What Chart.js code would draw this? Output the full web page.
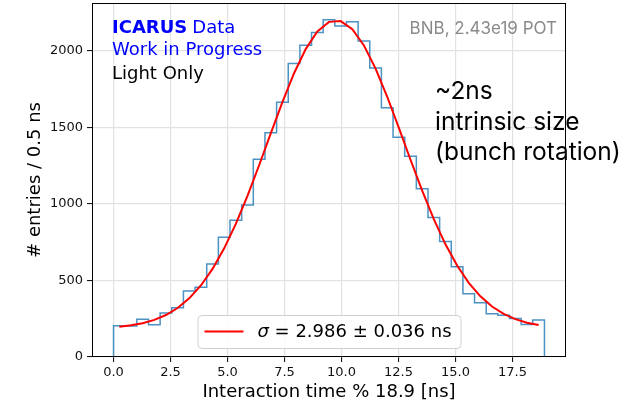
<!DOCTYPE html>
<html>
<head>
<meta charset="utf-8">
<script src="https://cdn.jsdelivr.net/npm/chart.js@4/dist/chart.umd.min.js"></script>
<style>
  html, body { margin: 0; padding: 0; background: #fff; }
  canvas { display: block; }
</style>
</head>
<body>
<canvas id="c" width="644" height="405"></canvas>
<script>
// Interaction time modulo the 18.9 ns bunch spacing, light-only reconstruction
const histRange = [0, 18.9];
const binCounts = [
  205, 203, 247, 210, 288, 321, 432, 456, 607, 782,
  894, 993, 1292, 1466, 1665, 1918, 2037, 2120, 2203, 2163,
  2190, 2065, 1888, 1628, 1436, 1312, 1100, 912, 755, 589,
  413, 354, 282, 273, 251, 212, 242
];

// Gaussian + flat background fit
const fitAmplitude = 2015;
const fitMean = 9.75;
const fitSigma = 2.986;
const fitSigmaErr = 0.036;
const fitOffset = 185;

const xTickValues = [0, 2.5, 5, 7.5, 10, 12.5, 15, 17.5];
const yTickValues = [0, 500, 1000, 1500, 2000];

const xLabel = 'Interaction time % 18.9 [ns]';
const yLabel = '# entries / 0.5 ns';
const expName = 'ICARUS';
const expSuffix = 'Data';
const statusText = 'Work in Progress';
const recoText = 'Light Only';
const exposureText = 'BNB, 2.43e19 POT';
const noteLines = ['~2ns', 'intrinsic size', '(bunch rotation)'];

// bin edges / centres
const nBins = binCounts.length;
const binW = (histRange[1] - histRange[0]) / nBins;
const edges = [];
for (let i = 0; i <= nBins; i++) edges.push(histRange[0] + i * binW);
const centers = binCounts.map((_, i) => edges[i] + binW / 2);

// step outline of the histogram
const stepPts = [{x: edges[0], y: 0}];
binCounts.forEach((c, i) => stepPts.push({x: edges[i], y: c}));
stepPts.push({x: edges[nBins], y: binCounts[nBins - 1]});
stepPts.push({x: edges[nBins], y: 0});

// fit curve evaluated at bin centres
const fitModel = x => fitAmplitude * Math.exp(-((x - fitMean) ** 2) / (2 * fitSigma ** 2)) + fitOffset;
const fitPts = centers.map(x => ({x, y: fitModel(x)}));

const yMax = Math.max(...binCounts) * 1.05;
const xPad = (histRange[1] - histRange[0]) * 0.05;

const MPL = 'DejaVu Sans';

const overlay = {
  id: 'overlay',
  afterDatasetsDraw(chart) {
    const ctx = chart.ctx;
    const a = chart.chartArea;
    // legend box, lower centre
    const legendText = ' = ' + fitSigma.toFixed(3) + ' \u00b1 ' + fitSigmaErr.toFixed(3) + ' ns';
    ctx.save();
    ctx.font = 'italic 18px ' + MPL;
    const wSig = ctx.measureText('\u03c3').width;
    ctx.font = '18px ' + MPL;
    const wRest = ctx.measureText(legendText).width;
    const boxW = 7 + 39 + 14 + wSig + wRest + 9;
    const boxH = 33;
    const cx = (a.left + a.right) / 2;
    const bx = cx - boxW / 2;
    const by = a.bottom - 9 - boxH;
    ctx.beginPath();
    ctx.roundRect(bx + 0.5, by + 0.5, boxW, boxH, 4);
    ctx.fillStyle = 'rgba(255,255,255,0.85)';
    ctx.fill();
    ctx.strokeStyle = '#d0d0d0';
    ctx.lineWidth = 1;
    ctx.stroke();
    const ly = by + boxH / 2;
    ctx.beginPath();
    ctx.moveTo(bx + 7, ly);
    ctx.lineTo(bx + 46, ly);
    ctx.strokeStyle = 'red';
    ctx.lineWidth = 2;
    ctx.stroke();
    ctx.fillStyle = '#000';
    ctx.textBaseline = 'middle';
    ctx.textAlign = 'left';
    const tx = bx + 60;
    ctx.font = 'italic 18px ' + MPL;
    ctx.fillText('\u03c3', tx, ly + 1);
    ctx.font = '18px ' + MPL;
    ctx.fillText(legendText, tx + wSig, ly + 1);
    ctx.restore();
  },
  afterDraw(chart) {
    const ctx = chart.ctx;
    const a = chart.chartArea;
    ctx.save();
    // frame
    ctx.strokeStyle = '#000';
    ctx.lineWidth = 1;
    ctx.strokeRect(Math.round(a.left) + 0.5, Math.round(a.top) + 0.5,
                   Math.round(a.right - a.left) - 1, Math.round(a.bottom - a.top) - 1);

    // axis titles
    ctx.fillStyle = '#000';
    ctx.font = '18px ' + MPL;
    ctx.textAlign = 'center';
    ctx.textBaseline = 'middle';
    ctx.fillText(xLabel, (a.left + a.right) / 2, 392);
    ctx.save();
    ctx.translate(35, (a.top + a.bottom) / 2);
    ctx.rotate(-Math.PI / 2);
    ctx.fillText(yLabel, 0, 0);
    ctx.restore();

    // experiment tag
    ctx.textAlign = 'left';
    ctx.textBaseline = 'alphabetic';
    const tx = a.left + 20;
    ctx.fillStyle = '#0000ff';
    ctx.font = 'bold 18px ' + MPL;
    ctx.fillText(expName, tx, 33);
    const wName = ctx.measureText(expName).width;
    ctx.font = '18px ' + MPL;
    ctx.fillText(expSuffix, tx + wName + 5, 33);
    ctx.fillText(statusText, tx, 55);
    ctx.fillStyle = '#000';
    ctx.fillText(recoText, tx, 79);

    // exposure
    ctx.fillStyle = '#8a8a8a';
    ctx.font = '17px Inter';
    ctx.textAlign = 'right';
    ctx.fillText(exposureText, a.right - 9, 34);

    // note on the right
    ctx.fillStyle = '#000';
    ctx.font = '24.5px Inter';
    ctx.textAlign = 'left';
    const nb = [99, 130, 160];
    noteLines.forEach((t, i) => ctx.fillText(t, 435, nb[i]));
    ctx.restore();
  }
};

new Chart(document.getElementById('c'), {
  type: 'line',
  data: {
    datasets: [
      {
        label: 'fit',
        data: fitPts,
        borderColor: 'red',
        borderWidth: 2,
        pointRadius: 0,
        tension: 0,
        fill: false,
        order: 0
      },
      {
        label: 'hist',
        data: stepPts,
        borderColor: 'rgba(31,119,180,0.8)',
        borderWidth: 1.5,
        pointRadius: 0,
        stepped: 'before',
        fill: false,
        order: 1
      }
    ]
  },
  options: {
    responsive: false,
    animation: false,
    devicePixelRatio: 1,
    layout: { padding: { left: 0, right: 78, top: 3, bottom: 0 } },
    plugins: { legend: { display: false }, tooltip: { enabled: false } },
    scales: {
      x: {
        type: 'linear',
        min: histRange[0] - xPad,
        max: histRange[1] + xPad,
        afterBuildTicks: s => { s.ticks = xTickValues.map(v => ({value: v})); },
        afterFit: s => { s.height = 48; s.paddingLeft = 0; s.paddingRight = 0; },
        border: { display: false },
        grid: { color: '#e2e2e2', lineWidth: 1.2, tickColor: '#000', tickLength: 5, tickWidth: 1 },
        ticks: {
          autoSkip: false, maxRotation: 0, padding: 3,
          color: '#111', font: { family: MPL, size: 13 },
          callback: v => Number(v).toFixed(1)
        }
      },
      y: {
        type: 'linear',
        min: 0,
        max: yMax,
        afterBuildTicks: s => { s.ticks = yTickValues.map(v => ({value: v})); },
        afterFit: s => { s.width = 92; s.paddingTop = 0; s.paddingBottom = 0; },
        border: { display: false },
        grid: { color: '#e2e2e2', lineWidth: 1.2, tickColor: '#000', tickLength: 5, tickWidth: 1 },
        ticks: {
          autoSkip: false, padding: 4,
          color: '#111', font: { family: MPL, size: 13 },
          callback: v => String(v)
        }
      }
    }
  },
  plugins: [overlay]
});
</script>
</body>
</html>
